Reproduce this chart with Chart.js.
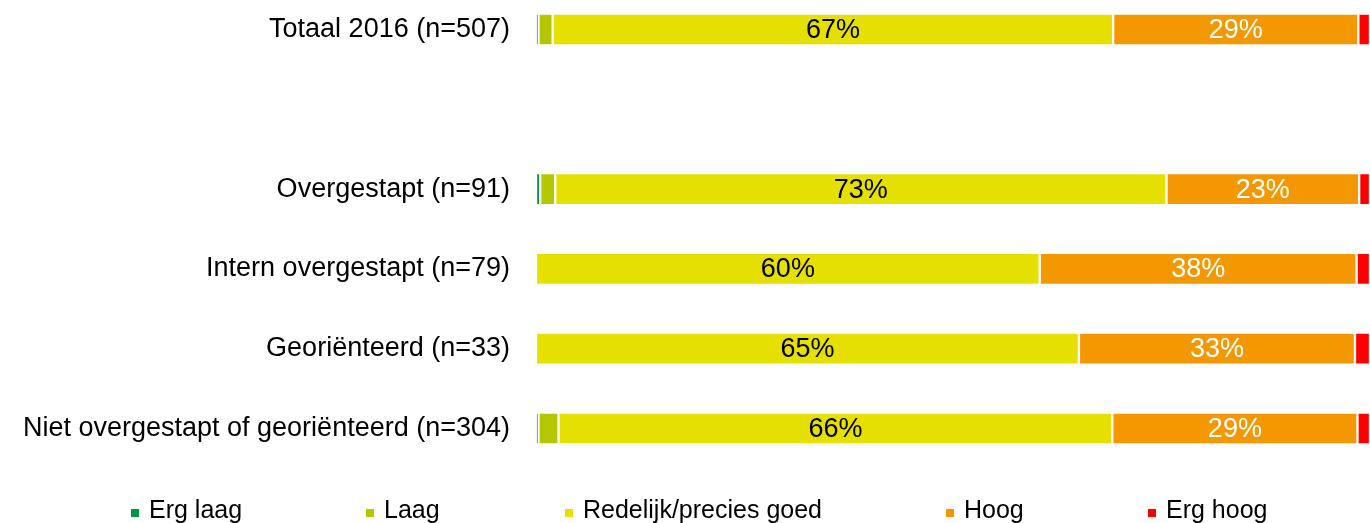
<!DOCTYPE html>
<html lang="nl">

<head>
    <meta charset="UTF-8">
    <title>Niveau</title>
    <style>
        body {
            margin: 0;
            background: #fff;
            font-family: "Liberation Sans", Arial, sans-serif;
        }

        .chartBox {
            position: relative;
            width: 1370px;
            height: 523px;
        }

        .legend {
            position: absolute;
            top: 494px;
            left: 0;
            width: 1370px;
            height: 30px;
        }

        .legend span.item {
            position: absolute;
            top: 0;
            font-size: 25px;
            line-height: 30px;
            color: #000;
            white-space: nowrap;
        }

        .legend span.box {
            display: inline-block;
            width: 8px;
            height: 8px;
            margin-right: 10px;
            vertical-align: 1px;
        }
    </style>
</head>

<body>

    <div class="chartBox">
        <canvas id="barChart" width="1370" height="523"></canvas>
        <div class="legend" id="legend"></div>
    </div>

    <script src="https://cdn.jsdelivr.net/npm/chart.js"></script>
    <script>
        // categorieën (lege rij = witruimte onder totaal)
        const categories = [
            'Totaal 2016 (n=507)',
            '',
            'Overgestapt (n=91)',
            'Intern overgestapt (n=79)',
            'Georiënteerd (n=33)',
            'Niet overgestapt of georiënteerd (n=304)'
        ];

        const seriesNames = ['Erg laag', 'Laag', 'Redelijk/precies goed', 'Hoog', 'Erg hoog'];
        const seriesColors = ['#00963f', '#b3c800', '#e6e000', '#f39800', '#ff0000'];

        // percentages per reeks
        const ergLaag = [0.3, null, 0.5, 0, 0, 0.3];
        const laag = [1.7, null, 1.8, 0, 0, 2.4];
        const redelijk = [67.2, null, 73.3, 60.4, 65.1, 66.4];
        const hoog = [29.4, null, 23.1, 38.0, 33.1, 29.4];
        const ergHoog = [1.4, null, 1.3, 1.6, 1.8, 1.5];

        const seriesValues = [ergLaag, laag, redelijk, hoog, ergHoog];
        const labelColors = [null, null, '#000', '#fff', null];

        // legenda posities (px) zoals in het origineel
        const legendLeft = [131, 366, 565, 946, 1148];

        const data = {
            labels: categories,
            datasets: seriesNames.map((name, i) => ({
                label: name,
                data: seriesValues[i],
                backgroundColor: seriesColors[i],
                borderColor: '#ffffff',
                borderWidth: 1.5,
                borderSkipped: false,
                barThickness: 32,
                clip: false
            }))
        };

        // percentages in de balken
        const barLabels = {
            id: 'barLabels',
            afterDatasetsDraw(chart) {
                const c = chart.ctx;
                c.save();
                c.font = '27px "Liberation Sans", Arial, sans-serif';
                c.textAlign = 'center';
                c.textBaseline = 'middle';
                chart.data.datasets.forEach((ds, di) => {
                    if (!labelColors[di]) return;
                    const meta = chart.getDatasetMeta(di);
                    meta.data.forEach((bar, idx) => {
                        const v = ds.data[idx];
                        if (v == null || v < 5) return;
                        c.fillStyle = labelColors[di];
                        c.fillText(Math.round(v) + '%', (bar.x + bar.base) / 2, bar.y + 1);
                    });
                });
                c.restore();
            }
        };

        const config = {
            type: 'bar',
            data,
            options: {
                indexAxis: 'y',
                responsive: false,
                animation: false,
                layout: {
                    padding: { top: 29.5, bottom: 94.5, left: 0, right: 0 }
                },
                scales: {
                    x: {
                        stacked: true,
                        min: 0,
                        max: 100,
                        display: false
                    },
                    y: {
                        stacked: true,
                        offset: false,
                        grid: { display: false, drawTicks: false },
                        border: { display: false },
                        ticks: {
                            padding: 26,
                            color: '#000',
                            font: { size: 27, family: '"Liberation Sans", Arial, sans-serif' }
                        },
                        afterFit(scale) {
                            scale.width = 536;
                            scale.paddingTop = 0;
                            scale.paddingBottom = 0;
                        }
                    }
                },
                plugins: {
                    legend: { display: false },
                    tooltip: { enabled: false }
                }
            },
            plugins: [barLabels]
        };

        const ctx = document.getElementById('barChart');
        const myChart = new Chart(ctx, config);

        // legenda in html
        const legendEl = document.getElementById('legend');
        seriesNames.forEach((name, i) => {
            const item = document.createElement('span');
            item.className = 'item';
            item.style.left = legendLeft[i] + 'px';
            const box = document.createElement('span');
            box.className = 'box';
            box.style.background = seriesColors[i];
            item.appendChild(box);
            item.appendChild(document.createTextNode(name));
            legendEl.appendChild(item);
        });
    </script>

</body>

</html>
